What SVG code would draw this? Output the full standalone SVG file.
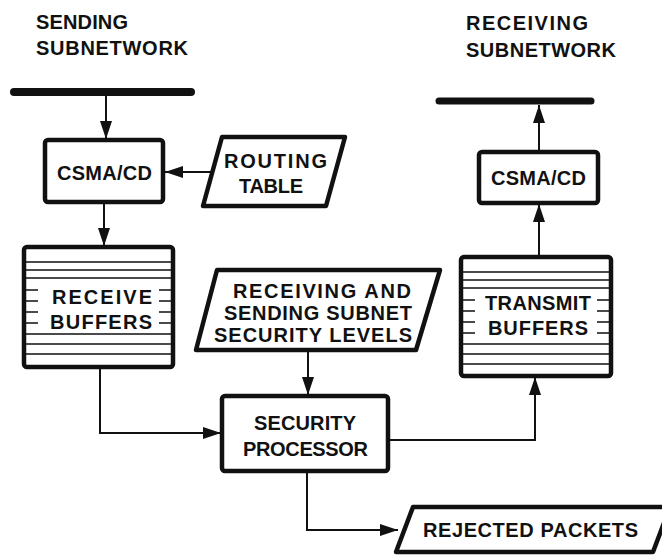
<svg xmlns="http://www.w3.org/2000/svg" width="662" height="556" viewBox="0 0 662 556">
<style>
text{font-family:"Liberation Sans",Arial,sans-serif;font-weight:bold;font-size:20px;fill:#111}
.box{fill:#fff;stroke:#111;stroke-width:4.5;stroke-linejoin:round}
.bar{stroke:#111;stroke-width:8;stroke-linecap:round}
.ln{stroke:#111;stroke-width:1.6;fill:none}
.cn{stroke:#111;stroke-width:2;fill:none}
</style>
<defs>
<marker id="ah" markerUnits="userSpaceOnUse" markerWidth="19" markerHeight="13" refX="18" refY="6.5" orient="auto">
<path d="M0,0.5 L18,6.5 L0,12.5 z" fill="#111"/>
</marker>
</defs>
<rect width="662" height="556" fill="#fff"/>
<g id="label-sending">
<text x="36" y="29" textLength="92" lengthAdjust="spacing">SENDING</text>
<text x="36" y="55" textLength="152" lengthAdjust="spacing">SUBNETWORK</text>
</g>
<g id="label-receiving">
<text x="466" y="30" textLength="122" lengthAdjust="spacing">RECEIVING</text>
<text x="466" y="57" textLength="150" lengthAdjust="spacing">SUBNETWORK</text>
</g>
<g id="bus-sending"><line class="bar" x1="14" y1="92" x2="191" y2="92"/></g>
<g id="bus-receiving"><line class="bar" x1="439" y1="101" x2="591" y2="101" style="stroke-width:7"/></g>
<g id="csma-left">
<rect class="box" x="45" y="140" width="118" height="62" rx="3"/>
<text x="57" y="180" textLength="95" lengthAdjust="spacing">CSMA/CD</text>
</g>
<g id="routing-table">
<polygon class="box" points="222,137 345,137 326,206 203,206"/>
<text x="224" y="168" textLength="103" lengthAdjust="spacing">ROUTING</text>
<text x="239" y="193" textLength="64" lengthAdjust="spacing">TABLE</text>
</g>
<g id="receive-buffers">
<rect class="box" x="24" y="247" width="149" height="120" rx="3"/>
<path class="ln" d="M26,262H171M26,270H171M26,278H171M26,334H171M26,344H171M26,354H171M26,290H38M26,301H38M26,312H38M26,323H38M159,290H171M159,301H171M159,312H171M159,323H171"/>
<text x="52" y="304" textLength="100" lengthAdjust="spacing">RECEIVE</text>
<text x="50" y="329" textLength="102" lengthAdjust="spacing">BUFFERS</text>
</g>
<g id="security-levels">
<polygon class="box" points="217,270 440,270 416,350 196,350"/>
<text x="233" y="298" textLength="178" lengthAdjust="spacing">RECEIVING AND</text>
<text x="224" y="320" textLength="188" lengthAdjust="spacing">SENDING SUBNET</text>
<text x="214" y="342" textLength="198" lengthAdjust="spacing">SECURITY LEVELS</text>
</g>
<g id="security-processor">
<rect class="box" x="222" y="396" width="166" height="75" rx="3"/>
<text x="254" y="430" textLength="102" lengthAdjust="spacing">SECURITY</text>
<text x="243" y="456" textLength="125" lengthAdjust="spacing">PROCESSOR</text>
</g>
<g id="transmit-buffers">
<rect class="box" x="461" y="257" width="150" height="119" rx="3"/>
<path class="ln" d="M463,272H609M463,280H609M463,288H609M463,344H609M463,354H609M463,364H609M463,300H475M463,311H475M463,322H475M463,333H475M597,300H609M597,311H609M597,322H609M597,333H609"/>
<text x="485" y="310" textLength="106" lengthAdjust="spacing">TRANSMIT</text>
<text x="488" y="335" textLength="100" lengthAdjust="spacing">BUFFERS</text>
</g>
<g id="csma-right">
<rect class="box" x="479" y="152" width="119" height="51" rx="3"/>
<text x="491" y="185" textLength="95" lengthAdjust="spacing">CSMA/CD</text>
</g>
<g id="rejected-packets">
<polygon class="box" points="413,507 670,507 653,552 396,552"/>
<text x="423" y="537" textLength="215" lengthAdjust="spacing">REJECTED PACKETS</text>
</g>
<g id="connectors">
<path class="cn" d="M106,96V139" marker-end="url(#ah)"/>
<path class="cn" d="M212,172H165" marker-end="url(#ah)"/>
<path class="cn" d="M104,202V246" marker-end="url(#ah)"/>
<path class="cn" d="M100,367V433H221" marker-end="url(#ah)"/>
<path class="cn" d="M308,350V395" marker-end="url(#ah)"/>
<path class="cn" d="M388,440H535V377" marker-end="url(#ah)"/>
<path class="cn" d="M539,257V204" marker-end="url(#ah)"/>
<path class="cn" d="M539,152V105" marker-end="url(#ah)"/>
<path class="cn" d="M307,471V530H398" marker-end="url(#ah)"/>
</g>
</svg>
